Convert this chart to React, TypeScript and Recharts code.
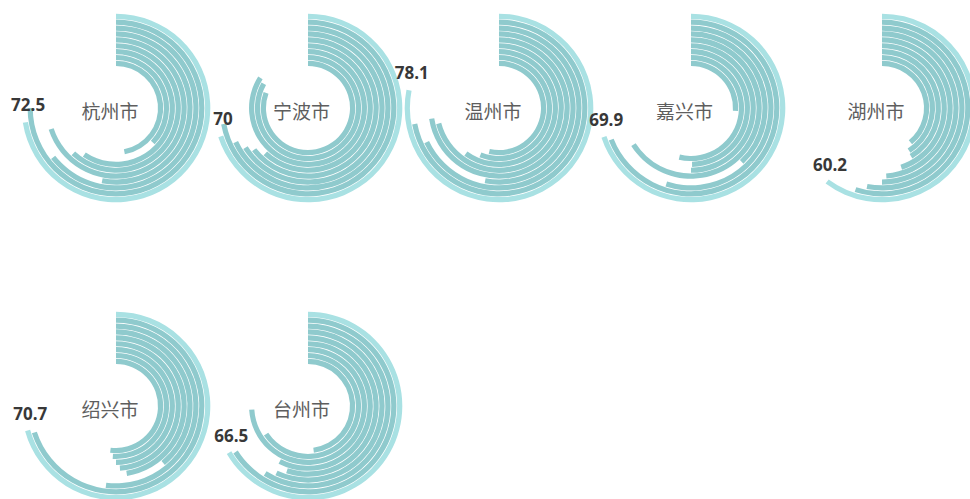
import React from 'react';
import { RadialBarChart, RadialBar, PolarAngleAxis, PolarRadiusAxis, Cell } from 'recharts';

// City names and headline values (outer ring)
const cities = ['杭州市', '宁波市', '温州市', '嘉兴市', '湖州市', '绍兴市', '台州市'];
const totals = [72.5, 70, 78.1, 69.9, 60.2, 70.7, 66.5];

// Inner ring values (innermost first)
const hangzhou = [47, 37, 59.5, 62, 70, 53, 64.4, 75];
const ningbo = [80.5, 83, 84, 62, 64.5, 66, 68, 72];
const wenzhou = [53.5, 56, 60, 71, 72.5, 53, 68, 72];
const jiaxing = [26, 53.7, 49.7, 50, 66, 38, 55, 69];
const huzhou = [39, 41, 41.4, 45, 49, 50, 53, 55];
const shaoxing = [52, 51, 50, 49, 47.5, 39, 52, 70];
const taizhou = [48, 65.6, 74, 57.5, 55, 57, 59, 66];

const innerRings = [hangzhou, ningbo, wenzhou, jiaxing, huzhou, shaoxing, taizhou];

const INNER = '#8fcacd';
const OUTER = '#a9e1e3';
const R = 100;
const IR = 42;
const OR = 95;

function CityRing({ name, rings, total, cx, cy }: { name: string; rings: number[]; total: number; cx: number; cy: number }) {
  const data = [...rings.map((v, i) => ({ k: 'r' + i, value: v })), { k: 'total', value: total }];
  const theta = (total / 100) * 2 * Math.PI;
  const endX = R + 92 * Math.sin(theta);
  const endY = R - 92 * Math.cos(theta);
  return (
    <div style={{ position: 'absolute', left: cx - R, top: cy - R, width: 2 * R, height: 2 * R }}>
      <RadialBarChart
        width={2 * R}
        height={2 * R}
        cx={R}
        cy={R}
        innerRadius={IR}
        outerRadius={OR}
        startAngle={90}
        endAngle={-270}
        data={data}
        margin={{ top: 0, right: 0, bottom: 0, left: 0 }}
      >
        <PolarAngleAxis type="number" domain={[0, 100]} tick={false} axisLine={false} />
        <PolarRadiusAxis type="category" dataKey="k" tick={false} axisLine={false} />
        <RadialBar dataKey="value" isAnimationActive={false} barSize={5.2}>
          {data.map((d, i) => (
            <Cell key={i} fill={i === data.length - 1 ? OUTER : INNER} />
          ))}
        </RadialBar>
      </RadialBarChart>
      <div
        style={{
          position: 'absolute',
          left: -6,
          width: 2 * R,
          top: R - 10,
          textAlign: 'center',
          fontFamily: '"Noto Sans CJK SC", sans-serif',
          fontSize: 19,
          color: '#5e5e5e',
          lineHeight: '26px',
        }}
      >
        {name}
      </div>
      <div
        style={{
          position: 'absolute',
          left: endX + 3,
          top: endY - 18,
          transform: 'translate(-50%, -50%)',
          fontFamily: '"Open Sans", sans-serif',
          fontWeight: 700,
          fontSize: 17,
          color: '#383838',
          whiteSpace: 'nowrap',
        }}
      >
        {total}
      </div>
    </div>
  );
}

export default function App() {
  return (
    <div
      style={{
        position: 'fixed',
        left: 0,
        top: 0,
        width: 970,
        height: 499,
        overflow: 'hidden',
        background: '#ffffff',
      }}
    >
      {cities.map((c, i) => (
        <CityRing
          key={c}
          name={c}
          rings={innerRings[i]}
          total={totals[i]}
          cx={116 + 191.5 * (i % 5)}
          cy={108 + 298 * Math.floor(i / 5)}
        />
      ))}
    </div>
  );
}
